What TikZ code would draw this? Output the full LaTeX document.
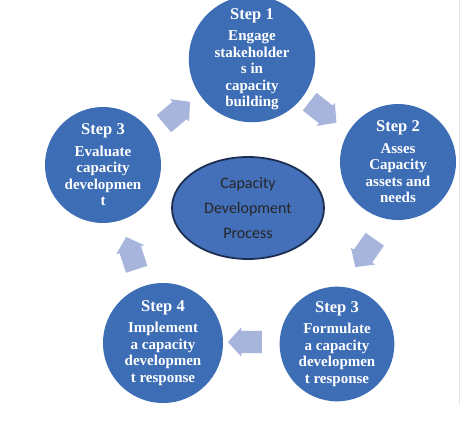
\documentclass[tikz,border=0pt]{standalone}
\usepackage{fontspec}
\setmainfont{Liberation Serif}
\newfontfamily\calib{Carlito}
\usetikzlibrary{shapes.geometric,shapes.arrows}
\definecolor{stepblue}{HTML}{3D6DB5}
\definecolor{ellblue}{HTML}{4470BA}
\definecolor{ellborder}{HTML}{1C2F52}
\definecolor{arrowblue}{HTML}{A7B5DD}
\tikzset{
  stepcircle/.style={circle, fill=stepblue, draw=none, minimum size=#1, inner sep=0pt,
     text=white, align=center, font=\bfseries\fontsize{15}{16.5}\selectfont},
  blockarrow/.style={single arrow, fill=arrowblue, draw=none, minimum height=34pt,
     inner xsep=0pt, inner ysep=11pt, single arrow head extend=3.5pt,
     single arrow tip angle=95, rotate=#1}
}
\newcommand{\stephd}[1]{{\fontsize{16.5}{18}\selectfont #1}}
\begin{document}
\begin{tikzpicture}[x=1pt,y=-1pt]
\useasboundingbox (0,0) rectangle (474,426);
\fill[white] (0,0) rectangle (474,426);
\draw[gray!22, line width=0.8pt] (459,0) -- (459,405);

% block arrows
\node[blockarrow=40]   (a1) at (173,116) {};
\node[blockarrow=-38]  (a2) at (319,109) {};
\node[blockarrow=-125] (a3) at (368,249) {};
\node[blockarrow=180]  (a4) at (250,342) {};
\node[blockarrow=108]  (a5) at (133,258) {};

% circles
\node[stepcircle=116pt] (s1) at (252,59) {\stephd{Step 1}\\[5pt]Engage\\stakeholder\\s in\\capacity\\building};
\node[stepcircle=116pt] (s2) at (398,162) {\stephd{Step 2}\\[5pt]Asses\\Capacity\\assets and\\needs};
\node[stepcircle=116pt] (s3l) at (103,165) {\stephd{Step 3}\\[5pt]Evaluate\\capacity\\developmen\\t};
\node[stepcircle=120pt] (s4) at (163,343) {\stephd{Step 4}\\[5pt]Implement\\a capacity\\developmen\\t response};
\node[stepcircle=114pt] (s3r) at (337,344) {\stephd{Step 3}\\[5pt]Formulate\\a capacity\\developmen\\t response};

% centre ellipse
\node[ellipse, fill=ellblue, draw=ellborder, line width=1.8pt, minimum width=152pt,
      minimum height=102pt, inner sep=0pt, align=center, text=black!85,
      font=\calib\fontsize{16}{25}\selectfont] (c) at (248,208)
      {Capacity\\Development\\Process};
\end{tikzpicture}
\end{document}
